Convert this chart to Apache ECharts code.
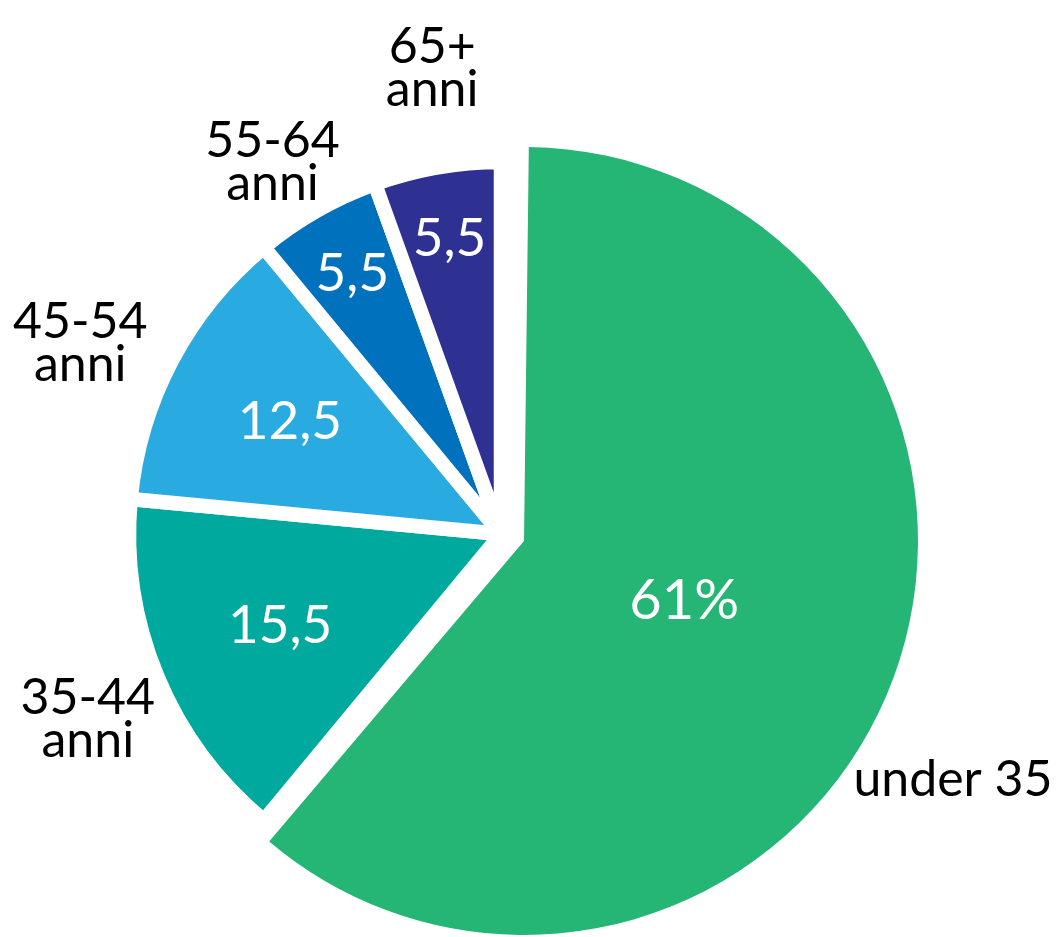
<!DOCTYPE html>
<html>
<head>
<meta charset="utf-8">
<title>Fasce d'età</title>
<script src="https://cdn.jsdelivr.net/npm/echarts@6/dist/echarts.min.js"></script>
<style>
    html, body { margin: 0; padding: 0; background: #fff; }
    #chart { width: 1059px; height: 937px; }
</style>
</head>
<body>
<div id="chart"></div>
<script>
// dati: fasce d'età e quote (%)
var ageGroups = ['under 35', '35-44 anni', '45-54 anni', '55-64 anni', '65+ anni'];
var shares = [61, 15.5, 12.5, 5.5, 5.5];
var sliceColors = ['#25B574', '#00A99D', '#29ABE2', '#0071BC', '#2E3192'];

// layout
var pieCenter = [501, 534];   // fette piccole
var bigCenter = [524, 541];   // fetta "under 35" esplosa
var NONE = 'rgba(0,0,0,0)';
var FONT = 'Lato, "Open Sans", sans-serif';

function valueText(p) {
    return p.dataIndex === 0 ? p.value + '%' : String(p.value).replace('.', ',');
}
function nameText(p) {
    return p.name.replace(' anni', '\nanni');
}

//dati per una serie: solo le fette in "visible" sono colorate
function sliceData(visible, border) {
    return shares.map(function (v, i) {
        var on = visible.indexOf(i) >= 0;
        return {
            name: ageGroups[i],
            value: v,
            itemStyle: on
                ? { color: sliceColors[i], borderColor: '#fff', borderWidth: border }
                : { color: NONE, borderWidth: 0 }
        };
    });
}

//serie trasparente usata solo per le etichette (a distanza "dist" dal centro)
function labelRing(center, dist, startAngle, visible, fontSize, color, fmt) {
    return {
        type: 'pie',
        silent: true,
        center: center,
        radius: [0, 2 * (dist - 3)],
        startAngle: startAngle,
        avoidLabelOverlap: false,
        itemStyle: { color: NONE, borderWidth: 0 },
        label: {
            show: true,
            position: 'inside',
            rotate: 0,
            color: color,
            fontFamily: FONT,
            fontSize: fontSize,
            lineHeight: 43,
            formatter: fmt
        },
        labelLine: { show: false },
        emphasis: { disabled: true },
        data: shares.map(function (v, i) {
            return { name: ageGroups[i], value: v, label: { show: visible.indexOf(i) >= 0 } };
        })
    };
}

var chart = echarts.init(document.getElementById('chart'));
chart.setOption({
    animation: false,
    series: [
        {
            type: 'pie',
            silent: true,
            center: pieCenter,
            radius: 372,
            startAngle: 90,
            avoidLabelOverlap: false,
            label: { show: false },
            labelLine: { show: false },
            emphasis: { disabled: true },
            data: sliceData([1, 2, 3, 4], 14.5)
        },
        {
            type: 'pie',
            silent: true,
            center: bigCenter,
            radius: 394,
            startAngle: 89.3,
            avoidLabelOverlap: false,
            label: { show: false },
            labelLine: { show: false },
            emphasis: { disabled: true },
            data: sliceData([0], 0)
        },
        // valori dentro le fette
        labelRing(pieCenter, 239, 90, [1, 2], 53, '#fff', valueText),
        labelRing(pieCenter, 300, 90, [3, 4], 53, '#fff', valueText),
        labelRing(bigCenter, 171, 89.3, [0], 56, '#fff', valueText),
        // nomi fuori
        labelRing(pieCenter, 471, 88.5, [4], 50, '#000', nameText),
        labelRing(pieCenter, 436, 91.9, [3], 50, '#000', nameText),
        labelRing(pieCenter, 462, 93.5, [2], 50, '#000', nameText),
        labelRing(pieCenter, 453, 91.7, [1], 50, '#000', nameText),
        labelRing(bigCenter, 491, 80.7, [0], 50, '#000', nameText)
    ]
});
</script>
</body>
</html>
